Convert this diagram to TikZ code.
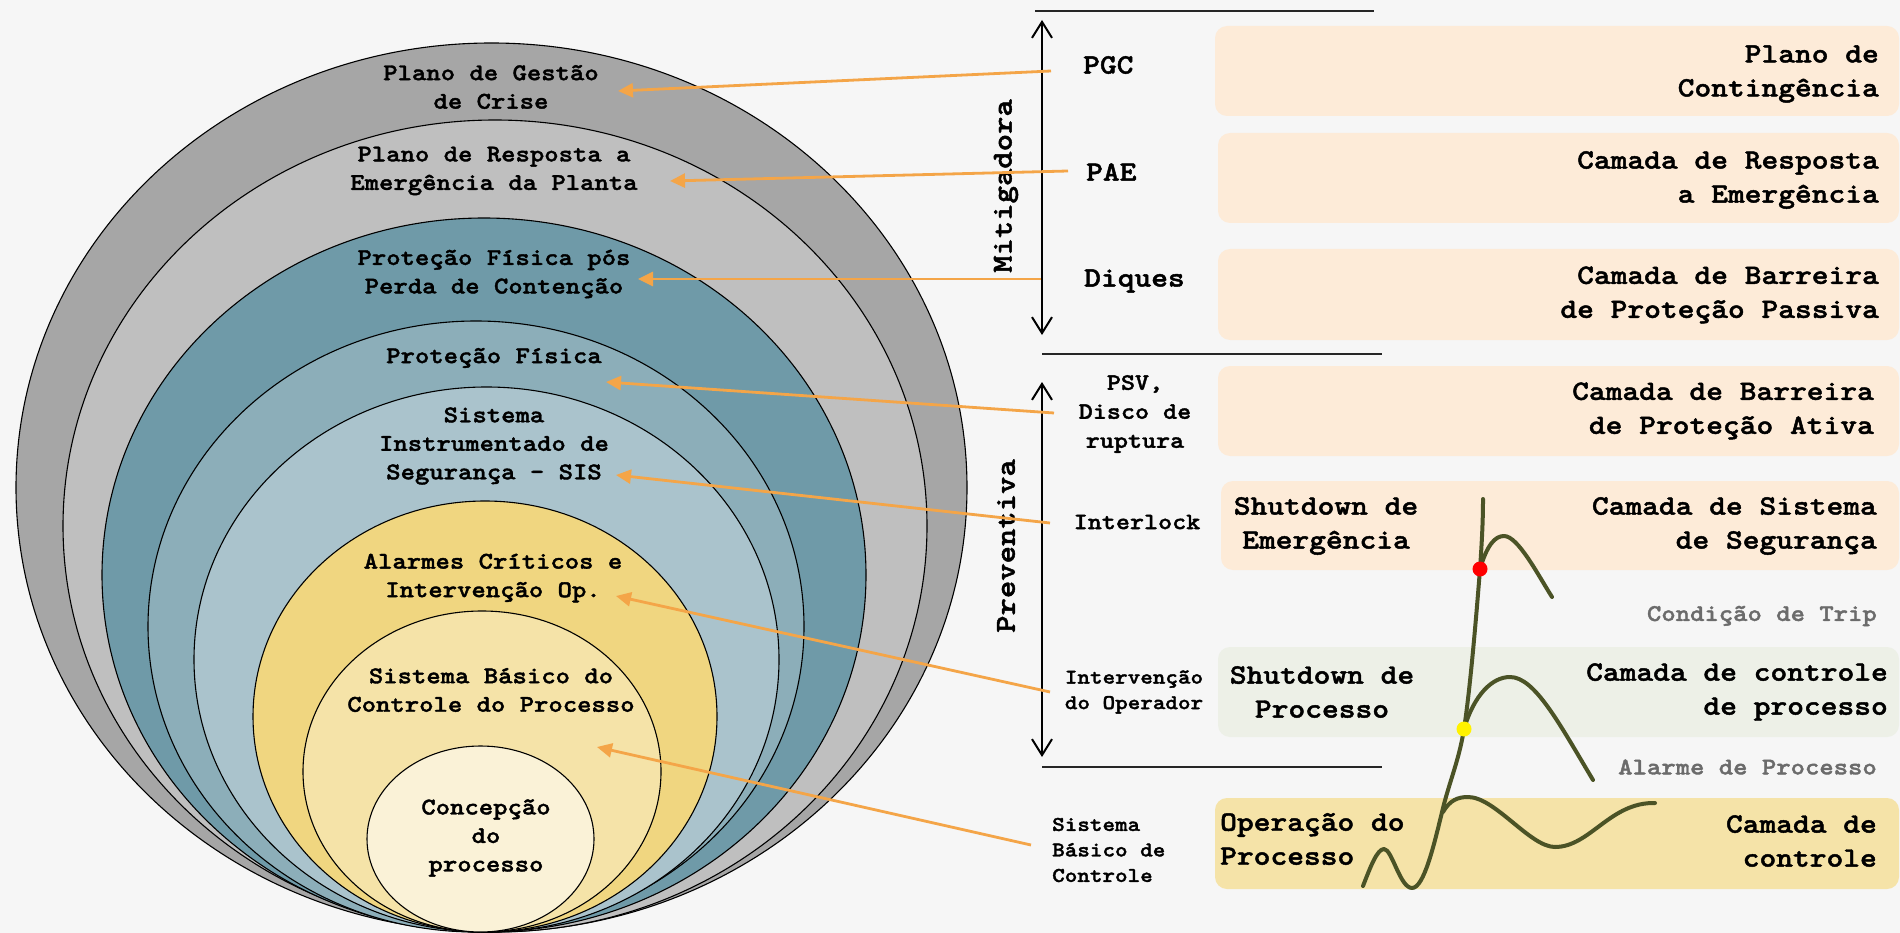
\documentclass[tikz,border=0pt]{standalone}
\usepackage{fontspec}
\newfontfamily\cour{lmmonolt10-bold.otf}[FakeStretch=1.14,FakeBold=1.6]
\usetikzlibrary{arrows.meta,shapes.geometric}
\definecolor{bgc}{HTML}{F6F6F6}
\definecolor{eA}{HTML}{A6A6A6}
\definecolor{eB}{HTML}{BFBFBF}
\definecolor{eC}{HTML}{6F9AA8}
\definecolor{eD}{HTML}{8CAEB9}
\definecolor{eE}{HTML}{AAC3CC}
\definecolor{eF}{HTML}{F0D680}
\definecolor{eG}{HTML}{F5E3A8}
\definecolor{eH}{HTML}{FAF2D7}
\definecolor{peach}{HTML}{FDEBD8}
\definecolor{greenbox}{HTML}{EDF0E7}
\definecolor{yelbox}{HTML}{F5E3A8}
\definecolor{orng}{HTML}{F4A548}
\definecolor{olive}{HTML}{4B5326}
\definecolor{graytxt}{HTML}{6B6B6B}
\begin{document}
\begin{tikzpicture}[x=1pt,y=-1pt,
  lay/.style={ellipse, draw=black, line width=1.1pt, inner sep=0pt, outer sep=0pt},
  etxt/.style={font=\cour\fontsize{24}{28.5}\selectfont, align=center, inner sep=0pt},
  btxt/.style={font=\cour\fontsize{28}{34}\selectfont, align=right, anchor=east, inner sep=0pt},
  ltxt/.style={font=\cour\fontsize{28}{34}\selectfont, align=center, inner sep=0pt},
  labA/.style={font=\cour\fontsize{28}{34}\selectfont, inner sep=0pt},
  labB/.style={font=\cour\fontsize{23.5}{29}\selectfont, align=center, inner sep=0pt},
  labC/.style={font=\cour\fontsize{21}{25.5}\selectfont, align=center, inner sep=0pt},
  gtxt/.style={font=\cour\fontsize{24}{28}\selectfont, text=graytxt, anchor=east, inner sep=0pt},
  rottxt/.style={font=\cour\fontsize{29}{34}\selectfont, rotate=90, inner sep=0pt},
  boxnode/.style={rounded corners=12pt, inner sep=0pt, outer sep=0pt},
  oarrow/.style={draw=orng, line width=2.8pt, -{Triangle[length=15pt,width=14pt]}},
  varrow/.style={draw=black, line width=2pt, {Straight Barb[length=16pt,width=20pt]}-{Straight Barb[length=16pt,width=20pt]}},
  hline/.style={draw=black!85, line width=1.5pt},
  wave/.style={draw=olive, line width=4pt, line cap=round, line join=round},
  dotnode/.style={circle, inner sep=0pt, minimum size=15pt}
]
% background
\fill[bgc] (0,0) rectangle (1900,933);
\useasboundingbox (0,0) rectangle (1900,933);

% ellipses
\node[lay, fill=eA, minimum width=951pt, minimum height=889pt] (e1) at (491.5,487.5) {};
\node[lay, fill=eB, minimum width=864pt, minimum height=812pt] (e2) at (495,526) {};
\node[lay, fill=eC, minimum width=764pt, minimum height=714pt] (e3) at (484,575) {};
\node[lay, fill=eD, minimum width=656pt, minimum height=611pt] (e4) at (476,626.5) {};
\node[lay, fill=eE, minimum width=585pt, minimum height=545pt] (e5) at (486.5,659.5) {};
\node[lay, fill=eF, minimum width=464pt, minimum height=431pt] (e6) at (485,716.5) {};
\node[lay, fill=eG, minimum width=358pt, minimum height=321pt] (e7) at (482,771.5) {};
\node[lay, fill=eH, minimum width=227pt, minimum height=186pt] (e8) at (480.5,839) {};

% ellipse texts
\node[etxt] (x1) at (491,87) {Plano de Gestão\\de Crise};
\node[etxt] (x2) at (494,171) {Plano de Resposta a\\Emergência da Planta};
\node[etxt] (x3) at (494,274) {Proteção Física pós\\Perda de Contenção};
\node[etxt] (x4) at (494,358) {Proteção Física};
\node[etxt] (x5) at (494,446) {Sistema\\Instrumentado de\\Segurança - SIS};
\node[etxt] (x6) at (493,578) {Alarmes Críticos e\\Intervenção Op.};
\node[etxt] (x7) at (491,690) {Sistema Básico do\\Controle do Processo};
\node[etxt] (x8) at (486,838) {Concepção\\do\\processo};

% boxes
\node[boxnode, fill=peach, minimum width=684pt, minimum height=90pt] (b1) at (1557,71) {};
\node[boxnode, fill=peach, minimum width=681pt, minimum height=90pt] (b2) at (1558.5,178) {};
\node[boxnode, fill=peach, minimum width=681pt, minimum height=91pt] (b3) at (1558.5,294.5) {};
\node[boxnode, fill=peach, minimum width=681pt, minimum height=90pt] (b4) at (1558.5,411) {};
\node[boxnode, fill=peach, minimum width=678pt, minimum height=89pt] (b5) at (1560,525.5) {};
\node[boxnode, fill=greenbox, minimum width=681pt, minimum height=90pt] (b6) at (1558.5,692) {};
\node[boxnode, fill=yelbox, minimum width=684pt, minimum height=91pt] (b7) at (1557,843.5) {};

% box texts
\node[btxt] (t1) at (1879,74) {Plano de\\Contingência};
\node[btxt] (t2) at (1879,180) {Camada de Resposta\\a Emergência};
\node[btxt] (t3) at (1879,295) {Camada de Barreira\\de Proteção Passiva};
\node[btxt] (t4) at (1874,411) {Camada de Barreira\\de Proteção Ativa};
\node[btxt] (t5) at (1877,526) {Camada de Sistema\\de Segurança};
\node[btxt] (t6) at (1888,692) {Camada de controle\\de processo};
\node[btxt] (t7) at (1877,841) {Camada de\\controle};
\node[ltxt] (s1) at (1326,526) {Shutdown de\\Emergência};
\node[ltxt] (s2) at (1322,692) {Shutdown de\\Processo};
\node[ltxt, align=left, anchor=west] (s3) at (1220,839) {Operação do\\Processo};
\node[gtxt] (cdt) at (1877,616) {Condição de Trip};
\node[gtxt] (adp) at (1877,767) {Alarme de Processo};

% left labels
\node[labA, anchor=west] (pgc) at (1083,65) {PGC};
\node[labA, anchor=west] (pae) at (1086,172) {PAE};
\node[labA, anchor=west] (diq) at (1084,281) {Diques};
\node[labB] (psv) at (1135,414) {PSV,\\Disco de\\ruptura};
\node[labB] (ilk) at (1137,522) {Interlock};
\node[labC] (iop) at (1134,692) {Intervenção\\do Operador};
\node[labC, align=left, anchor=west] (sbc) at (1052,850) {Sistema\\Básico de\\Controle};

% vertical arrows and lines
\node[rottxt] (mit) at (1006,186) {Mitigadora};
\node[rottxt] (prv) at (1006,546) {Preventiva};
\coordinate (mTop) at (1042,20);
\coordinate (mBot) at (1042,335);
\coordinate (pTop) at (1042,382);
\coordinate (pBot) at (1042,757);
\draw[varrow] (mTop) -- (mBot);
\draw[varrow] (pTop) -- (pBot);
\coordinate (h1a) at (1035,11);  \coordinate (h1b) at (1374,11);
\coordinate (h2a) at (1042,354); \coordinate (h2b) at (1382,354);
\coordinate (h3a) at (1042,767); \coordinate (h3b) at (1382,767);
\draw[hline] (h1a) -- (h1b);
\draw[hline] (h2a) -- (h2b);
\draw[hline] (h3a) -- (h3b);

% orange arrows
\coordinate (sPGC) at (1051,71);  \coordinate (tPGC) at (618,91);
\coordinate (sPAE) at (1068,171); \coordinate (tPAE) at (670,181);
\coordinate (sDIQ) at (1041,279); \coordinate (tDIQ) at (638,279);
\coordinate (sPSV) at (1054,413); \coordinate (tPSV) at (606,382);
\coordinate (sILK) at (1050,523); \coordinate (tILK) at (616,475);
\coordinate (sIOP) at (1050,692); \coordinate (tIOP) at (616,596);
\coordinate (sSBC) at (1031,845); \coordinate (tSBC) at (597,747);
\draw[oarrow] (sPGC) -- (tPGC);
\draw[oarrow] (sPAE) -- (tPAE);
\draw[oarrow] (sDIQ) -- (tDIQ);
\draw[oarrow] (sPSV) -- (tPSV);
\draw[oarrow] (sILK) -- (tILK);
\draw[oarrow] (sIOP) -- (tIOP);
\draw[oarrow] (sSBC) -- (tSBC);

% process curves
\draw[wave] (1363,886) .. controls (1370,868) and (1377,849) .. (1384,849)
  .. controls (1392,849) and (1400,888) .. (1412,888)
  .. controls (1424,888) and (1434,845) .. (1443,808)
  .. controls (1450,780) and (1459,760) .. (1464,729)
  .. controls (1470,690) and (1476,620) .. (1480,569)
  .. controls (1482,540) and (1483,520) .. (1483,499);
\draw[wave] (1480,569) .. controls (1487,545) and (1495,536) .. (1504,536)
  .. controls (1518,536) and (1538,575) .. (1552,597);
\draw[wave] (1464,729) .. controls (1474,695) and (1492,677) .. (1510,677)
  .. controls (1535,677) and (1560,725) .. (1593,780);
\draw[wave] (1443,812) .. controls (1450,800) and (1458,797) .. (1468,797)
  .. controls (1495,797) and (1530,847) .. (1555,847)
  .. controls (1590,847) and (1610,802) .. (1655,803);
\node[dotnode, fill=red] (rdot) at (1480,569) {};
\node[dotnode, fill=yellow] (ydot) at (1464,729) {};
\end{tikzpicture}
\end{document}
